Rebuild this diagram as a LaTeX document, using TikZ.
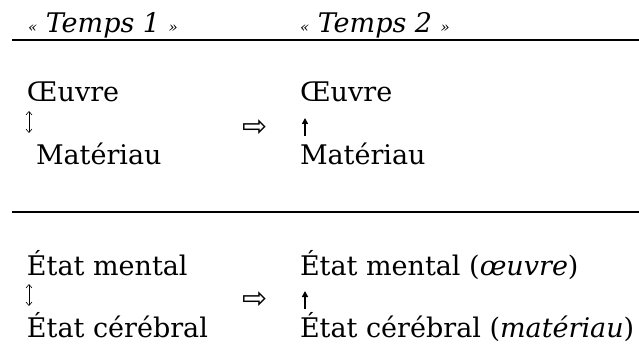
\documentclass[tikz,border=0pt]{standalone}
\usepackage{fontspec}
\setmainfont{DejaVu Serif}
\newfontfamily\symbfont{DejaVu Sans}
\usepackage{tikz}
\usetikzlibrary{arrows.meta, positioning, calc}

\begin{document}
\begin{tikzpicture}[x=1pt, y=1pt,
    every node/.style={inner sep=0pt, outer sep=0pt, anchor=base west, font=\fontsize{27}{32}\selectfont},
    entete/.style={font=\fontsize{27}{32}\selectfont\itshape},
    regle/.style={line width=2pt},
    passe/.style={anchor=center, font=\fontsize{30}{34}\symbfont},
    lien/.style={line width=1.6pt, -{Triangle[length=6pt,width=6pt]}},
    liendouble/.style={line width=0.6pt, {Straight Barb[length=3.5pt,width=6pt]}-{Straight Barb[length=3.5pt,width=6pt]}}]
    \useasboundingbox (0,0) rectangle (639,-347);

    % en-tetes
    \node[entete] (t1) at (28,-33) {{\fontsize{15}{18}\selectfont«} Temps 1 {\fontsize{15}{18}\selectfont»}};
    \node[entete] (t2) at (300,-33) {{\fontsize{15}{18}\selectfont«} Temps 2 {\fontsize{15}{18}\selectfont»}};
    \coordinate (r1g) at (12,-40);
    \coordinate (r1d) at (639,-40);
    \draw[regle] (r1g) -- (r1d);

    % oeuvre / materiau
    \node (oeuvreA) at (27,-102) {Œuvre};
    \node (matA) at (36,-165) {Matériau};
    \node[passe] (passe1) at (255,-128) {⇨};
    \node (oeuvreB) at (300,-102) {Œuvre};
    \node (matB) at (300,-165) {Matériau};
    \draw[liendouble] ([xshift=2pt,yshift=-9pt]oeuvreA.base west) -- ([xshift=-7pt,yshift=32pt]matA.base west);
    \draw[lien] ([xshift=5pt,yshift=29pt]matB.base west) -- ([xshift=5pt,yshift=-16pt]oeuvreB.base west);

    \coordinate (r2g) at (12,-212);
    \coordinate (r2d) at (639,-212);
    \draw[regle] (r2g) -- (r2d);

    % etat mental / etat cerebral
    \node (mentA) at (27,-275) {État mental};
    \node (cerA) at (27,-337) {État cérébral};
    \node[passe] (passe2) at (255,-300) {⇨};
    \node (mentB) at (300,-275) {État mental (\textit{œuvre})};
    \node (cerB) at (300,-337) {État cérébral (\textit{matériau})};
    \draw[liendouble] ([xshift=2pt,yshift=-9pt]mentA.base west) -- ([xshift=2pt,yshift=31pt]cerA.base west);
    \draw[lien] ([xshift=5pt,yshift=28pt]cerB.base west) -- ([xshift=5pt,yshift=-16pt]mentB.base west);
\end{tikzpicture}
\end{document}
